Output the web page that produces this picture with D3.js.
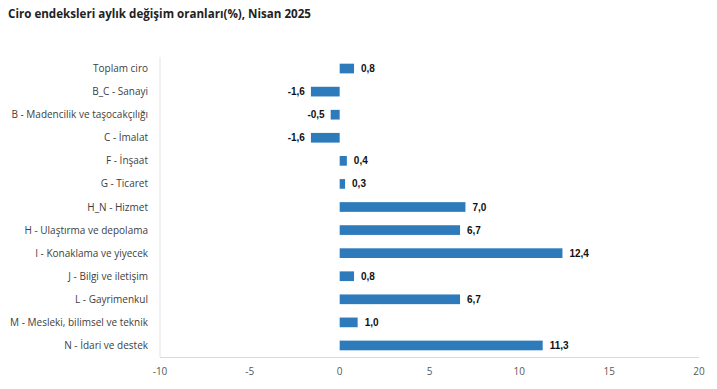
<!DOCTYPE html>
<html>
<head>
<meta charset="utf-8">
<script src="https://cdn.jsdelivr.net/npm/d3@7"></script>
<style>
  body { margin: 0; background: #fff; }
  .title { font-family: "Open Sans", "Noto Sans", sans-serif; font-weight: bold; font-size: 11.6px; fill: #222; }
  .cat { font-family: "Open Sans", "Noto Sans", sans-serif; font-size: 10px; fill: #404040; }
  .tick-label { font-family: "Open Sans", "Noto Sans", sans-serif; font-size: 10px; fill: #595959; }
  .data-label { font-family: "Liberation Sans", Arial, sans-serif; font-weight: bold; font-size: 10px; fill: #111; }
</style>
</head>
<body>
<div class="chart"></div>
<script>
const categories = [
    "Toplam ciro",
    "B_C - Sanayi",
    "B - Madencilik ve taşocakçılığı",
    "C - İmalat",
    "F - İnşaat",
    "G - Ticaret",
    "H_N - Hizmet",
    "H - Ulaştırma ve depolama",
    "I - Konaklama ve yiyecek",
    "J - Bilgi ve iletişim",
    "L - Gayrimenkul",
    "M - Mesleki, bilimsel ve teknik",
    "N - İdari ve destek"
];
const values = [0.8, -1.6, -0.5, -1.6, 0.4, 0.3, 7.0, 6.7, 12.4, 0.8, 6.7, 1.0, 11.3];
const xTicks = [-10, -5, 0, 5, 10, 15, 20];

const width = 717;
const height = 389;

const svg = d3.select('.chart')
    .append('svg')
    .attr('width', width)
    .attr('height', height);

svg.append('text')
    .attr('class', 'title')
    .attr('x', 8)
    .attr('y', 18)
    .text("Ciro endeksleri aylık değişim oranları(%), Nisan 2025");

const x = d3.scaleLinear().domain([-10, 20]).range([160, 699]);
const y = d3.scaleBand().domain(categories).range([57, 357]).paddingInner(0.58).paddingOuter(0.29);

let rows = categories.map((c, i) => ({cat: c, val: values[i]}));

// axis lines
svg.append('line')
    .attr('x1', x(-10)).attr('x2', x(-10))
    .attr('y1', 57).attr('y2', 357)
    .attr('stroke', '#e3e3e3').attr('stroke-width', 1);
svg.append('line')
    .attr('x1', x(-10)).attr('x2', x(20))
    .attr('y1', 357.5).attr('y2', 357.5)
    .attr('stroke', '#d9d9d9').attr('stroke-width', 1);

svg.selectAll('.tick-label')
    .data(xTicks)
    .enter()
    .append('text')
    .attr('class', 'tick-label')
    .attr('x', d => x(d))
    .attr('y', 375)
    .attr('text-anchor', 'middle')
    .text(d => d);

svg.selectAll('.cat')
    .data(rows)
    .enter()
    .append('text')
    .attr('class', 'cat')
    .attr('x', 148)
    .attr('y', d => y(d.cat) + y.bandwidth() / 2)
    .attr('dy', '0.35em')
    .attr('text-anchor', 'end')
    .text(d => d.cat);

svg.selectAll('.bar')
    .data(rows)
    .enter()
    .append('rect')
    .attr('class', 'bar')
    .attr('x', d => x(Math.min(0, d.val)))
    .attr('y', d => y(d.cat))
    .attr('width', d => Math.abs(x(d.val) - x(0)))
    .attr('height', y.bandwidth())
    .attr('fill', '#2e7bbb');

svg.selectAll('.data-label')
    .data(rows)
    .enter()
    .append('text')
    .attr('class', 'data-label')
    .attr('x', d => d.val >= 0 ? x(d.val) + 7 : x(d.val) - 6)
    .attr('y', d => y(d.cat) + y.bandwidth() / 2)
    .attr('dy', '0.35em')
    .attr('text-anchor', d => d.val >= 0 ? 'start' : 'end')
    .text(d => d3.format('.1f')(d.val).replace('.', ',').replace('−', '-'));
</script>
</body>
</html>
